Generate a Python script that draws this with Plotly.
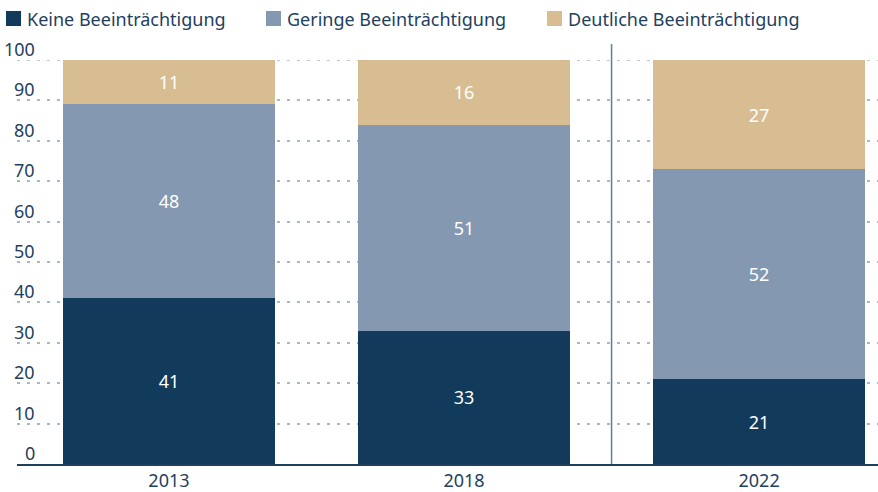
import plotly.graph_objects as go

years = ["2013", "2018", "2022"]
keine = [41, 33, 21]
geringe = [48, 51, 52]
deutlich = [11, 16, 27]
series_names = ["Keine Beeinträchtigung", "Geringe Beeinträchtigung", "Deutliche Beeinträchtigung"]
colors = ["#123a5a", "#8499b1", "#d8bd92"]
yticks = [0, 10, 20, 30, 40, 50, 60, 70, 80, 90, 100]

FONT = "Noto Sans"
TXT = "#1e3f5e"
GRID = "#a9b8c8"
W, H = 878, 492
ML, MR, MT, MB = 17, 0, 60, 28
pw = W - ML - MR
ph = H - MT - MB


def px_x(p):
    return (p - ML) / pw


def px_y(p):
    return 1 - (p - MT) / ph


xs = list(range(len(years)))
fig = go.Figure()
for name, vals, c in zip(series_names, [keine, geringe, deutlich], colors):
    fig.add_trace(go.Bar(
        x=xs, y=vals, name=name, marker=dict(color=c, line=dict(width=0)),
        width=0.72, text=[str(v) for v in vals], textposition="inside",
        insidetextanchor="middle", textfont=dict(color="white", size=18, family=FONT),
        showlegend=False, cliponaxis=False,
    ))

# custom legend (squares + labels)
leg_sq_x = [6, 266, 547]
for name, c, lx in zip(series_names, colors, leg_sq_x):
    fig.add_shape(type="rect", xref="paper", yref="paper",
                  x0=px_x(lx), x1=px_x(lx + 15), y0=px_y(26), y1=px_y(11),
                  fillcolor=c, line=dict(width=0))
    fig.add_annotation(x=px_x(lx + 19), xref="paper", y=px_y(18.5), yref="paper", text=name,
                       showarrow=False, xanchor="left", yanchor="middle",
                       font=dict(size=18, color=TXT, family=FONT))

# y tick labels as annotations (above gridlines)
for t in yticks:
    fig.add_annotation(x=px_x(37), xref="paper", y=t, yref="y", text=str(t),
                       showarrow=False, xanchor="right", yanchor="bottom", yshift=-3,
                       font=dict(size=18, color=TXT, family=FONT))

# top gridline at 100 (drawn explicitly, below bars)
fig.add_shape(type="line", xref="paper", x0=0, x1=1, yref="y", y0=100, y1=100,
              line=dict(color=GRID, width=1.5, dash="3px,7px"), layer="below")

# separator line
fig.add_shape(type="line", x0=1.5, x1=1.5, xref="x", y0=0, y1=px_y(44), yref="paper",
              line=dict(color="#5e7d98", width=1.5))

fig.update_layout(
    width=W, height=H, margin=dict(l=ML, r=MR, t=MT, b=MB),
    barmode="stack", plot_bgcolor="white", paper_bgcolor="white",
    font=dict(family=FONT, color=TXT, size=18),
    showlegend=False,
    xaxis=dict(tickmode="array", tickvals=xs, ticktext=years, range=[-0.515, 2.403],
               showgrid=False, zeroline=False, showline=True, linecolor="#1e3f5e", linewidth=1.5,
               ticks="", tickfont=dict(size=18, color=TXT, family=FONT)),
    yaxis=dict(range=[0, 100], tickvals=yticks, showticklabels=False, showgrid=True,
               gridcolor=GRID, griddash="3px,7px", gridwidth=1.5, zeroline=False, ticks=""),
)
fig.write_html("out.html")
